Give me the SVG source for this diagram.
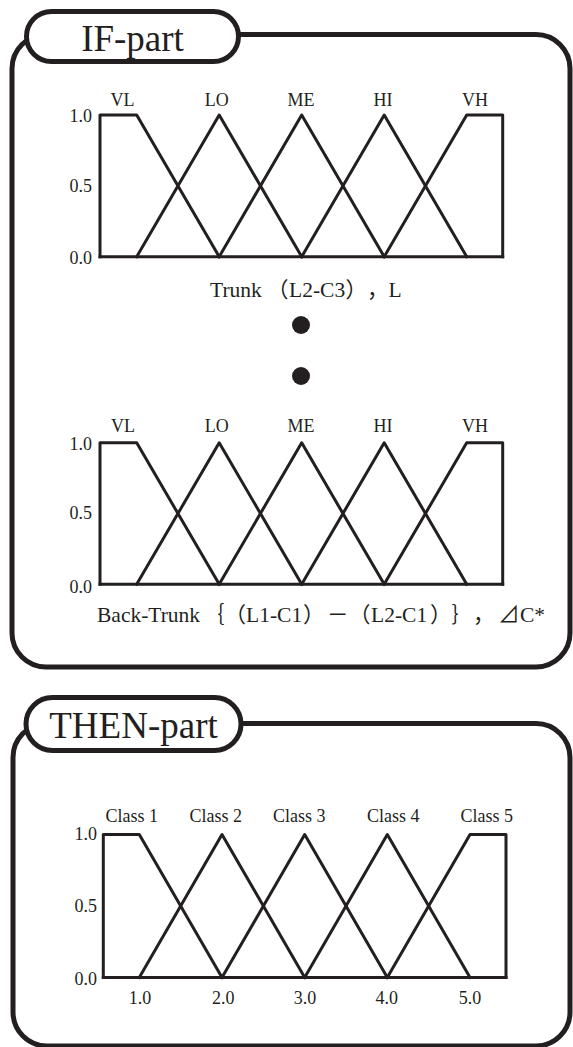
<svg xmlns="http://www.w3.org/2000/svg" width="573" height="1047" viewBox="0 0 573 1047">
<style>
.frame{fill:none;stroke:#231f20;stroke-width:5}
.pill{fill:#fff;stroke:#231f20;stroke-width:5}
.mf{fill:none;stroke:#231f20;stroke-width:3;stroke-linejoin:round;stroke-linecap:square}
.t{font-family:"Liberation Serif","Noto Sans CJK SC",serif;fill:#231f20;text-spacing-trim:space-all}
.title{font-size:37px;text-anchor:middle}
.lab{font-size:18px;text-anchor:middle}
.ax{font-size:18px;text-anchor:end}
.xt{font-size:21.5px}
.xv{font-size:18px;text-anchor:middle}
</style>
<rect width="573" height="1047" fill="#fff"/>

<g id="if-part">
  <path class="frame" d="M46,34.5 H536 A34,34 0 0 1 570,68.5 V633 A34,34 0 0 1 536,667 H46 A34,34 0 0 1 12,633 V68.5 A34,34 0 0 1 46,34.5 Z"/>
  <rect class="pill" x="26.5" y="11.5" width="212" height="50" rx="25"/>
  <text class="t title" x="132.5" y="50.5">IF-part</text>
</g>

<g id="chart-trunk">
  <polyline class="mf" points="100,256.7 502.7,256.7"/>
  <polyline class="mf" points="100,256.7 100,115 136.7,115 219.2,256.7"/>
  <polyline class="mf" points="136.7,256.7 219.2,115 301.7,256.7"/>
  <polyline class="mf" points="219.2,256.7 301.7,115 384.2,256.7"/>
  <polyline class="mf" points="301.7,256.7 384.2,115 466.7,256.7"/>
  <polyline class="mf" points="384.2,256.7 466.7,115 502.7,115 502.7,256.7"/>
  <text class="t lab" x="122.5" y="106">VL</text>
  <text class="t lab" x="216.7" y="106">LO</text>
  <text class="t lab" x="301" y="106">ME</text>
  <text class="t lab" x="383" y="106">HI</text>
  <text class="t lab" x="475" y="106">VH</text>
  <text class="t ax" x="92" y="122">1.0</text>
  <text class="t ax" x="92" y="192">0.5</text>
  <text class="t ax" x="92" y="264">0.0</text>
  <text class="t xt" y="296.7"><tspan x="210">Trunk</tspan><tspan x="267">（</tspan><tspan x="289">L2-C3</tspan><tspan x="345.5">）</tspan><tspan x="367">，</tspan><tspan x="388.5">L</tspan></text>
</g>

<g id="ellipsis">
  <circle cx="301" cy="325" r="9" fill="#231f20"/>
  <circle cx="301" cy="376" r="9" fill="#231f20"/>
</g>

<g id="chart-backtrunk">
  <polyline class="mf" points="100,584.3 502.7,584.3"/>
  <polyline class="mf" points="100,584.3 100,442.7 136.7,442.7 219.2,584.3"/>
  <polyline class="mf" points="136.7,584.3 219.2,442.7 301.7,584.3"/>
  <polyline class="mf" points="219.2,584.3 301.7,442.7 384.2,584.3"/>
  <polyline class="mf" points="301.7,584.3 384.2,442.7 466.7,584.3"/>
  <polyline class="mf" points="384.2,584.3 466.7,442.7 502.7,442.7 502.7,584.3"/>
  <text class="t lab" x="123" y="432">VL</text>
  <text class="t lab" x="216.7" y="432">LO</text>
  <text class="t lab" x="301" y="432">ME</text>
  <text class="t lab" x="383" y="432">HI</text>
  <text class="t lab" x="475" y="432">VH</text>
  <text class="t ax" x="92" y="450">1.0</text>
  <text class="t ax" x="92" y="519">0.5</text>
  <text class="t ax" x="92" y="593">0.0</text>
  <text class="t xt" y="621.7"><tspan x="97">Back-Trunk</tspan><tspan x="203">｛</tspan><tspan x="224.5">（</tspan><tspan x="246">L1-C1</tspan><tspan x="303">）</tspan><tspan x="327">－</tspan><tspan x="349">（</tspan><tspan x="371">L2-C1</tspan><tspan x="430">）</tspan><tspan x="451.5">｝</tspan><tspan x="473">，</tspan><tspan x="498">⊿</tspan><tspan x="520">C*</tspan></text>
</g>

<g id="then-part">
  <path class="frame" d="M46,723.5 H536 A34,34 0 0 1 570,757.5 V1012 A34,34 0 0 1 536,1046 H47 A34,34 0 0 1 13,1012 V757.5 A34,34 0 0 1 46,723.5 Z"/>
  <rect class="pill" x="26" y="697.5" width="215" height="53" rx="26.5"/>
  <text class="t title" x="133.5" y="738">THEN-part</text>
</g>

<g id="chart-class">
  <polyline class="mf" points="103.3,977.5 506,977.5"/>
  <polyline class="mf" points="103.3,977.5 103.3,834.5 139.3,834.5 222,977.5"/>
  <polyline class="mf" points="139.3,977.5 222,834.5 304.7,977.5"/>
  <polyline class="mf" points="222,977.5 304.7,834.5 387.3,977.5"/>
  <polyline class="mf" points="304.7,977.5 387.3,834.5 470,977.5"/>
  <polyline class="mf" points="387.3,977.5 470,834.5 506,834.5 506,977.5"/>
  <text class="t lab" x="131.7" y="821.7">Class 1</text>
  <text class="t lab" x="215.7" y="821.7">Class 2</text>
  <text class="t lab" x="299.3" y="821.7">Class 3</text>
  <text class="t lab" x="393.3" y="821.7">Class 4</text>
  <text class="t lab" x="486.7" y="821.7">Class 5</text>
  <text class="t ax" x="97" y="840">1.0</text>
  <text class="t ax" x="97" y="912">0.5</text>
  <text class="t ax" x="97" y="985">0.0</text>
  <text class="t xv" x="140" y="1004">1.0</text>
  <text class="t xv" x="223.3" y="1004">2.0</text>
  <text class="t xv" x="305" y="1004">3.0</text>
  <text class="t xv" x="386.7" y="1004">4.0</text>
  <text class="t xv" x="470" y="1004">5.0</text>
</g>
</svg>
